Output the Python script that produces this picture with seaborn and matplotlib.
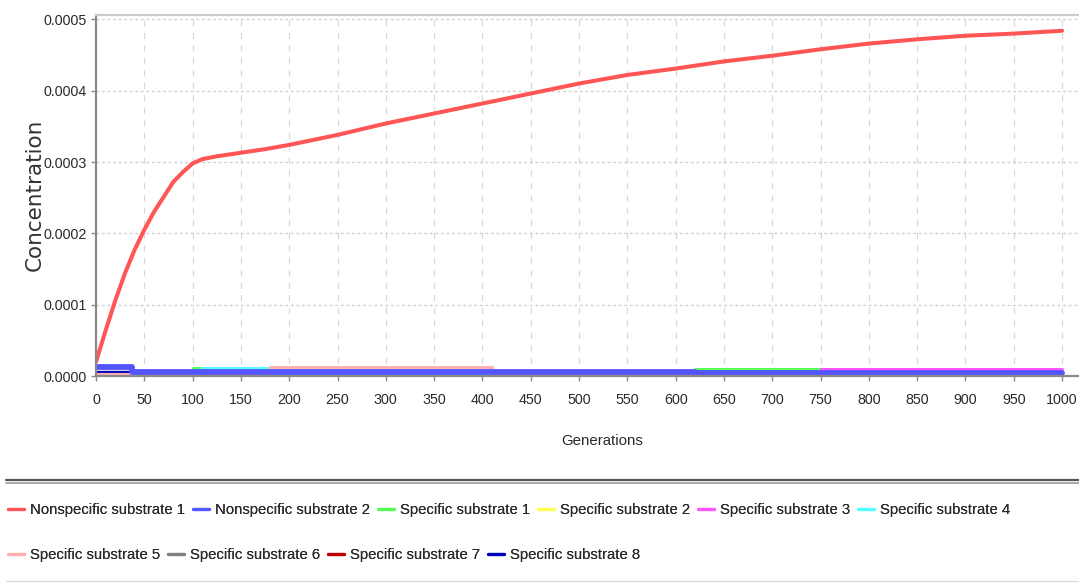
import numpy as np
import pandas as pd
import matplotlib
matplotlib.use("Agg")
import matplotlib.pyplot as plt
from matplotlib.lines import Line2D
from matplotlib.ticker import MultipleLocator, FormatStrFormatter
import seaborn as sns

# ---- data -------------------------------------------------------------
series_names = [
    "Nonspecific substrate 1", "Nonspecific substrate 2",
    "Specific substrate 1", "Specific substrate 2", "Specific substrate 3",
    "Specific substrate 4", "Specific substrate 5", "Specific substrate 6",
    "Specific substrate 7", "Specific substrate 8",
]
series_colors = [
    "#ff5555", "#5555ff", "#55ff55", "#ffff55", "#ff55ff",
    "#55ffff", "#ffafaf", "#808080", "#c00000", "#0000c0",
]

# main substrate curve
gens_main = [0, 10, 20, 30, 40, 50, 60, 70, 80, 90, 100, 110, 125, 150, 175,
             200, 250, 300, 350, 400, 450, 500, 550, 600, 650, 700, 750,
             800, 850, 900, 950, 1000]
conc_main = [0.000020, 0.000064, 0.000106, 0.000144, 0.000177, 0.000205,
             0.000230, 0.000251, 0.000272, 0.000286, 0.000298, 0.000304,
             0.000308, 0.000313, 0.000318, 0.000324, 0.000338, 0.000354,
             0.000368, 0.000382, 0.000396, 0.000410, 0.000422, 0.000431,
             0.000441, 0.000449, 0.000458, 0.000466, 0.000472, 0.000477,
             0.000480, 0.000484]

# remaining substrates stay close to zero (piecewise constant levels)
gens_low = [0, 37, 100, 110, 180, 410, 620, 750, 1000]
conc_nonspec2 = [12e-6, 5.6e-6, 5.6e-6, 5.6e-6, 5.6e-6, 5.6e-6, 4.5e-6, 4.5e-6, 4.5e-6]
conc_spec1 = [3e-6, 3e-6, 11e-6, 3e-6, 3e-6, 3e-6, 10e-6, 3e-6, 3e-6]
conc_spec2 = [2e-6, 2e-6, 2e-6, 2e-6, 2e-6, 2e-6, 2e-6, 2e-6, 2e-6]
conc_spec3 = [3e-6, 3e-6, 3e-6, 3e-6, 3e-6, 3e-6, 3e-6, 10e-6, 10e-6]
conc_spec4 = [3e-6, 3e-6, 3e-6, 11e-6, 3e-6, 3e-6, 3e-6, 3e-6, 3e-6]
conc_spec5 = [3e-6, 3e-6, 3e-6, 3e-6, 12.5e-6, 3e-6, 3e-6, 3e-6, 3e-6]
conc_spec6 = [6.3e-6, 4e-6, 3e-6, 3e-6, 3e-6, 3e-6, 3e-6, 3e-6, 3e-6]
conc_spec7 = [2e-6, 2e-6, 2e-6, 2e-6, 2e-6, 2e-6, 2e-6, 2e-6, 2e-6]
conc_spec8 = [4e-6, 4e-6, 4e-6, 4e-6, 4e-6, 4e-6, 4e-6, 4e-6, 4e-6]

x_ticks_step = 50
y_ticks_step = 0.0001

# ---- style ------------------------------------------------------------
sns.set_theme(style="white")
sans = ["Liberation Sans", "DejaVu Sans"]
plt.rcParams["font.family"] = sans

W, H = 1079, 584
fig = plt.figure(figsize=(W / 100, H / 100), dpi=100)
fig.patch.set_facecolor("white")

left, right, top, bottom = 96, 1078, 14.7, 376
ax = fig.add_axes([left / W, 1 - bottom / H, (right - left) / W, (bottom - top) / H])
ax.set_facecolor("white")

color_of = dict(zip(series_names, series_colors))

# low-level substrates; the thick blue band is drawn last among them
low_series = [
    ("Specific substrate 7", conc_spec7, 2.2),
    ("Specific substrate 2", conc_spec2, 2.2),
    ("Specific substrate 6", conc_spec6, 2.4),
    ("Specific substrate 8", conc_spec8, 3.0),
    ("Specific substrate 1", conc_spec1, 2.2),
    ("Specific substrate 3", conc_spec3, 2.2),
    ("Specific substrate 4", conc_spec4, 2.2),
    ("Specific substrate 5", conc_spec5, 2.2),
    ("Nonspecific substrate 2", conc_nonspec2, 4.2),
]
for name, vals, lw in low_series:
    df = pd.DataFrame({"Generations": gens_low, "Concentration": vals})
    sns.lineplot(data=df, x="Generations", y="Concentration", ax=ax,
                 color=color_of[name], linewidth=lw, drawstyle="steps-post",
                 estimator=None, sort=False, legend=False)

df_main = pd.DataFrame({"Generations": gens_main, "Concentration": conc_main})
sns.lineplot(data=df_main, x="Generations", y="Concentration", ax=ax,
             color=color_of["Nonspecific substrate 1"], linewidth=2.9,
             estimator=None, sort=False, legend=False)

ax.set_xlim(0, 1016.5)
ax.set_ylim(0, 0.0005065)
ax.xaxis.set_major_locator(MultipleLocator(x_ticks_step))
ax.yaxis.set_major_locator(MultipleLocator(y_ticks_step))
ax.yaxis.set_major_formatter(FormatStrFormatter("%.4f"))
ax.set_xlabel("")
ax.set_ylabel("")

# grid: dashed verticals, dotted horizontals
ax.grid(False)
for gx in np.arange(x_ticks_step, 1001, x_ticks_step):
    ax.axvline(gx, color="#d8d8d8", linewidth=0.9, linestyle=(0, (5, 5)), zorder=0)
for gy in np.arange(y_ticks_step, 0.00051, y_ticks_step):
    ax.axhline(gy, color="#d0d0d0", linewidth=1.0, linestyle=(0, (2, 2)), zorder=0)

for side in ("left", "bottom"):
    ax.spines[side].set_color("#8a8a8a")
    ax.spines[side].set_linewidth(1.6)
ax.spines["top"].set_color("#cccccc")
ax.spines["top"].set_linewidth(1.6)
ax.spines["right"].set_visible(False)

ax.tick_params(axis="both", which="major", direction="out", length=3.5,
               width=1.0, color="#8a8a8a", labelsize=10.3, labelcolor="#2a2a2a",
               bottom=True, left=True, pad=3)
ax.tick_params(axis="x", pad=8.5)

fig.text(35 / W, 1 - 195 / H, "Concentration", rotation=90, ha="center",
         va="center", fontsize=15.5, color="#333333", family=["DejaVu Sans"])
fig.text(602 / W, 1 - 441 / H, "Generations", ha="center", va="center",
         fontsize=10.8, color="#2a2a2a")

# separator lines around the legend
fig.add_artist(Line2D([6 / W, 1], [1 - 480 / H, 1 - 480 / H], color="#555555",
                      linewidth=1.6, transform=fig.transFigure))
fig.add_artist(Line2D([6 / W, 1], [1 - 482.5 / H, 1 - 482.5 / H], color="#9a9a9a",
                      linewidth=1.2, transform=fig.transFigure))
fig.add_artist(Line2D([6 / W, 1], [1 - 581 / H, 1 - 581 / H], color="#dddddd",
                      linewidth=1.0, transform=fig.transFigure))

handles = [Line2D([0], [0], color=c, linewidth=2.3) for c in series_colors]
row1 = list(range(6))
row2 = list(range(6, 10))
for idx, ypos in ((row1, 510), (row2, 555)):
    leg = fig.legend([handles[i] for i in idx], [series_names[i] for i in idx],
                     loc="center left", bbox_to_anchor=(8 / W, 1 - ypos / H),
                     ncol=len(idx), frameon=False, borderpad=0, borderaxespad=0,
                     handlelength=1.07, handletextpad=0.40, columnspacing=0.54,
                     prop={"size": 10.7})
    for t in leg.get_texts():
        t.set_color("#2a2a2a")
    fig.add_artist(leg)

fig.savefig("out.png", dpi=100, facecolor="white")
